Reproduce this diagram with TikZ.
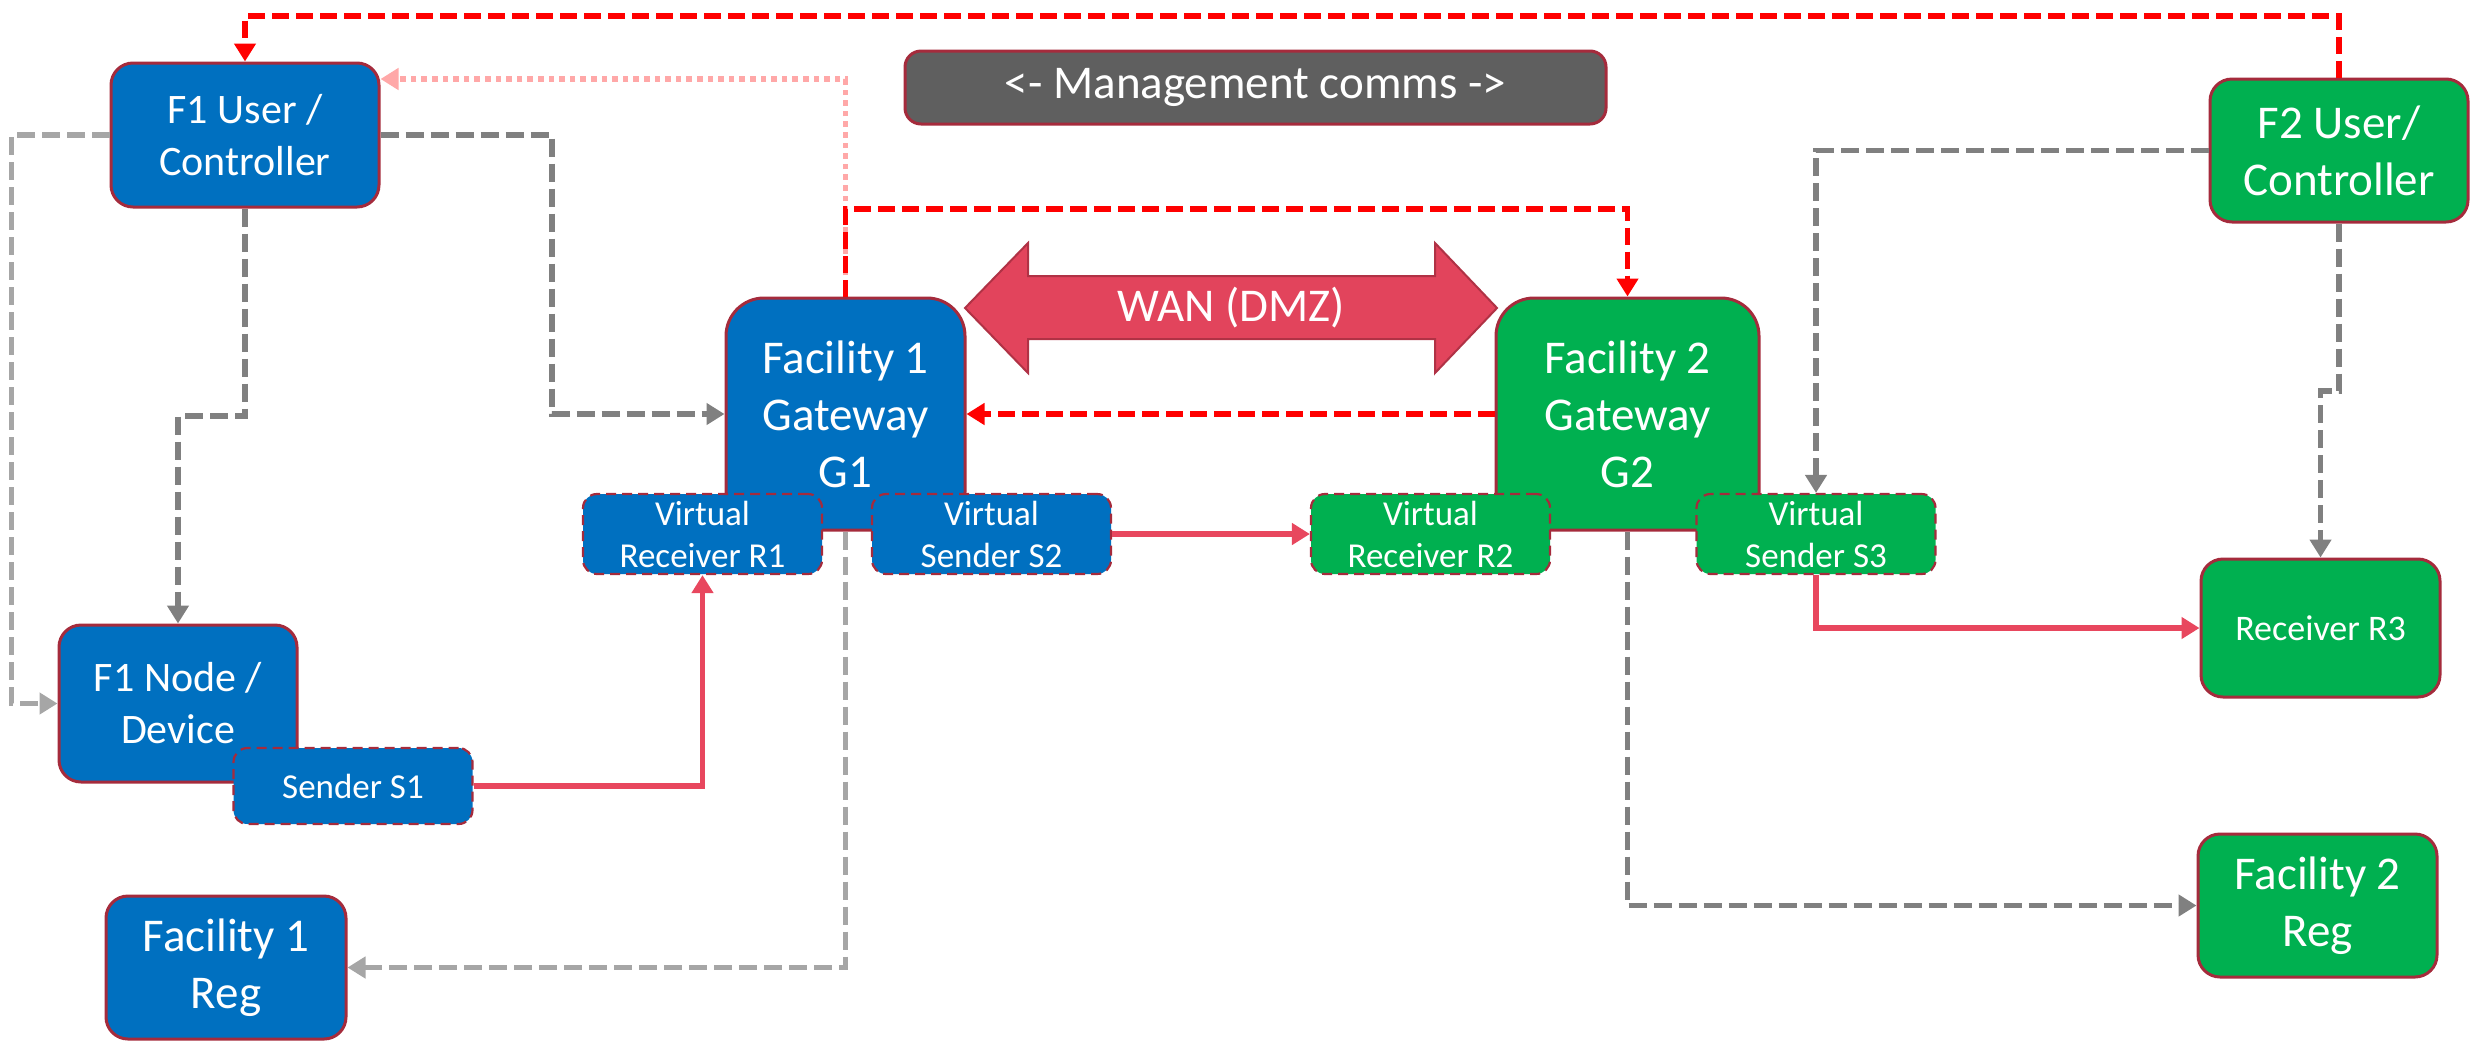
\documentclass[tikz,border=0pt]{standalone}
\usepackage{fontspec}
\setmainfont{Carlito}
\usetikzlibrary{arrows.meta}
\definecolor{fblue}{HTML}{0070C0}
\definecolor{fgreen}{HTML}{00B050}
\definecolor{bord}{HTML}{A52B3C}
\definecolor{mgmt}{HTML}{5F5F5F}
\definecolor{wanred}{HTML}{E2445C}
\definecolor{wanbord}{HTML}{B03245}
\definecolor{solidred}{HTML}{E8475E}
\definecolor{dred}{HTML}{FF0000}
\definecolor{pinkdot}{HTML}{FFA8A8}
\definecolor{dgray}{HTML}{808080}
\definecolor{lgray}{HTML}{A6A6A6}
\newcommand\txtbig{\fontsize{23.5}{28.5}\selectfont}
\newcommand\txtmid{\fontsize{21}{26}\selectfont}
\newcommand\txtrr{\fontsize{18}{22}\selectfont}
\newcommand\txtsm{\fontsize{17.5}{21}\selectfont}
\begin{document}
\begin{tikzpicture}[x=0.5pt,y=-0.5pt,
  box/.style={draw=bord,line width=1.5pt,rounded corners=11pt,inner sep=0pt,align=center,text=white},
  bluebox/.style={box,fill=fblue},
  greenbox/.style={box,fill=fgreen},
  vbox/.style={draw=bord,line width=1.1pt,dash pattern=on 5pt off 3pt,rounded corners=7pt,inner sep=0pt,align=center,text=white,font=\txtsm,minimum width=119.5pt,minimum height=40pt},
  vblue/.style={vbox,fill=fblue},
  vgreen/.style={vbox,fill=fgreen},
  conn/.style={line width=2.8pt,-{Triangle[length=9pt,width=10.5pt]}},
  redd/.style={conn,draw=dred,dash pattern=on 8.5pt off 3.5pt},
  grayd/.style={conn,draw=dgray,dash pattern=on 9pt off 3.5pt},
  lgrayd/.style={conn,draw=lgray,dash pattern=on 9pt off 3.5pt},
  pinkd/.style={conn,draw=pinkdot,dash pattern=on 2.8pt off 2.5pt},
  solidr/.style={conn,draw=solidred}
]
\useasboundingbox (0,0) rectangle (2471,1045);

% main boxes
\node[bluebox,minimum width=134pt,minimum height=72pt,font=\txtmid] (f1u) at (245,135) {F1 User /\\Controller};
\node[bluebox,minimum width=119pt,minimum height=78.5pt,font=\txtmid] (f1n) at (178,703.5) {F1 Node /\\Device};
\node[bluebox,minimum width=120pt,minimum height=71.5pt,font=\txtbig] (f1r) at (226,967.5) {Facility 1\\Reg};
\node[bluebox,rounded corners=19pt,minimum width=119.5pt,minimum height=116pt,font=\txtbig] (g1) at (845.5,414) {Facility 1\\Gateway\\G1};
\node[greenbox,rounded corners=19pt,minimum width=131.5pt,minimum height=116pt,font=\txtbig] (g2) at (1627.5,414) {Facility 2\\Gateway\\G2};
\node[greenbox,minimum width=129pt,minimum height=71.5pt,font=\txtbig] (f2u) at (2339,150.5) {F2 User/\\Controller};
\node[greenbox,minimum width=119.5pt,minimum height=69pt,font=\txtrr] (r3) at (2320.5,628) {Receiver R3};
\node[greenbox,minimum width=119.5pt,minimum height=71.5pt,font=\txtbig] (f2r) at (2317.5,905.5) {Facility 2\\Reg};

% management box
\node[box,fill=mgmt,rounded corners=8pt,minimum width=350.5pt,minimum height=36.5pt,font=\txtbig] (mg) at (1255.5,87.5) {<- Management comms ->};

% WAN arrow
\filldraw[fill=wanred,draw=wanbord,line width=1pt] (965,308) -- (1028,243) -- (1028,276) -- (1435,276) -- (1435,243) -- (1497,308) -- (1435,373) -- (1435,339) -- (1028,339) -- (1028,373) -- cycle;
\node[font=\txtbig,text=white,inner sep=0pt] (wan) at (1231,308) {WAN (DMZ)};

% virtual boxes
\node[vblue] (r1) at (702.5,534) {Virtual\\Receiver R1};
\node[vblue] (s2) at (991.5,534) {Virtual\\Sender S2};
\node[vgreen] (r2) at (1430.5,534) {Virtual\\Receiver R2};
\node[vgreen] (s3) at (1816,534) {Virtual\\Sender S3};
\node[vblue,minimum height=38pt] (s1) at (353,786) {Sender S1};

% helper coordinates
\coordinate (yTop) at (0,16);
\coordinate (yP) at (0,79);
\coordinate (yR) at (0,209);
\coordinate (yB) at (0,416);
\coordinate (yD) at (0,391);
\coordinate (xA) at (552,0);
\coordinate (xC) at (11.5,0);

% connectors
\draw[pinkd] (g1.north) -- (g1.north |- yP) -- (f1u.east |- yP);
\draw[redd] (g1.north) -- (g1.north |- yR) -| (g2.north);
\draw[redd] (f2u.north) -- (f2u.north |- yTop) -| (f1u.north);
\draw[redd] (g2.west) -- (g1.east);
\draw[grayd] (f1u.east) -| (xA |- g1.west) -- (g1.west);
\draw[grayd] (f1u.south) -- (f1u.south |- yB) -| (f1n.north);
\draw[lgrayd] (f1u.west) -| (xC |- f1n.west) -- (f1n.west);
\draw[lgrayd] (g1.south) |- (f1r.east);
\draw[grayd] (g2.south) |- (f2r.west);
\draw[grayd] (f2u.west) -| (s3.north);
\draw[grayd] (f2u.south) -- (f2u.south |- yD) -| (r3.north);
\draw[solidr] (s1.east) -| (r1.south);
\draw[solidr] (s2.east) -- (r2.west);
\draw[solidr] (s3.south) |- (r3.west);
\end{tikzpicture}
\end{document}
